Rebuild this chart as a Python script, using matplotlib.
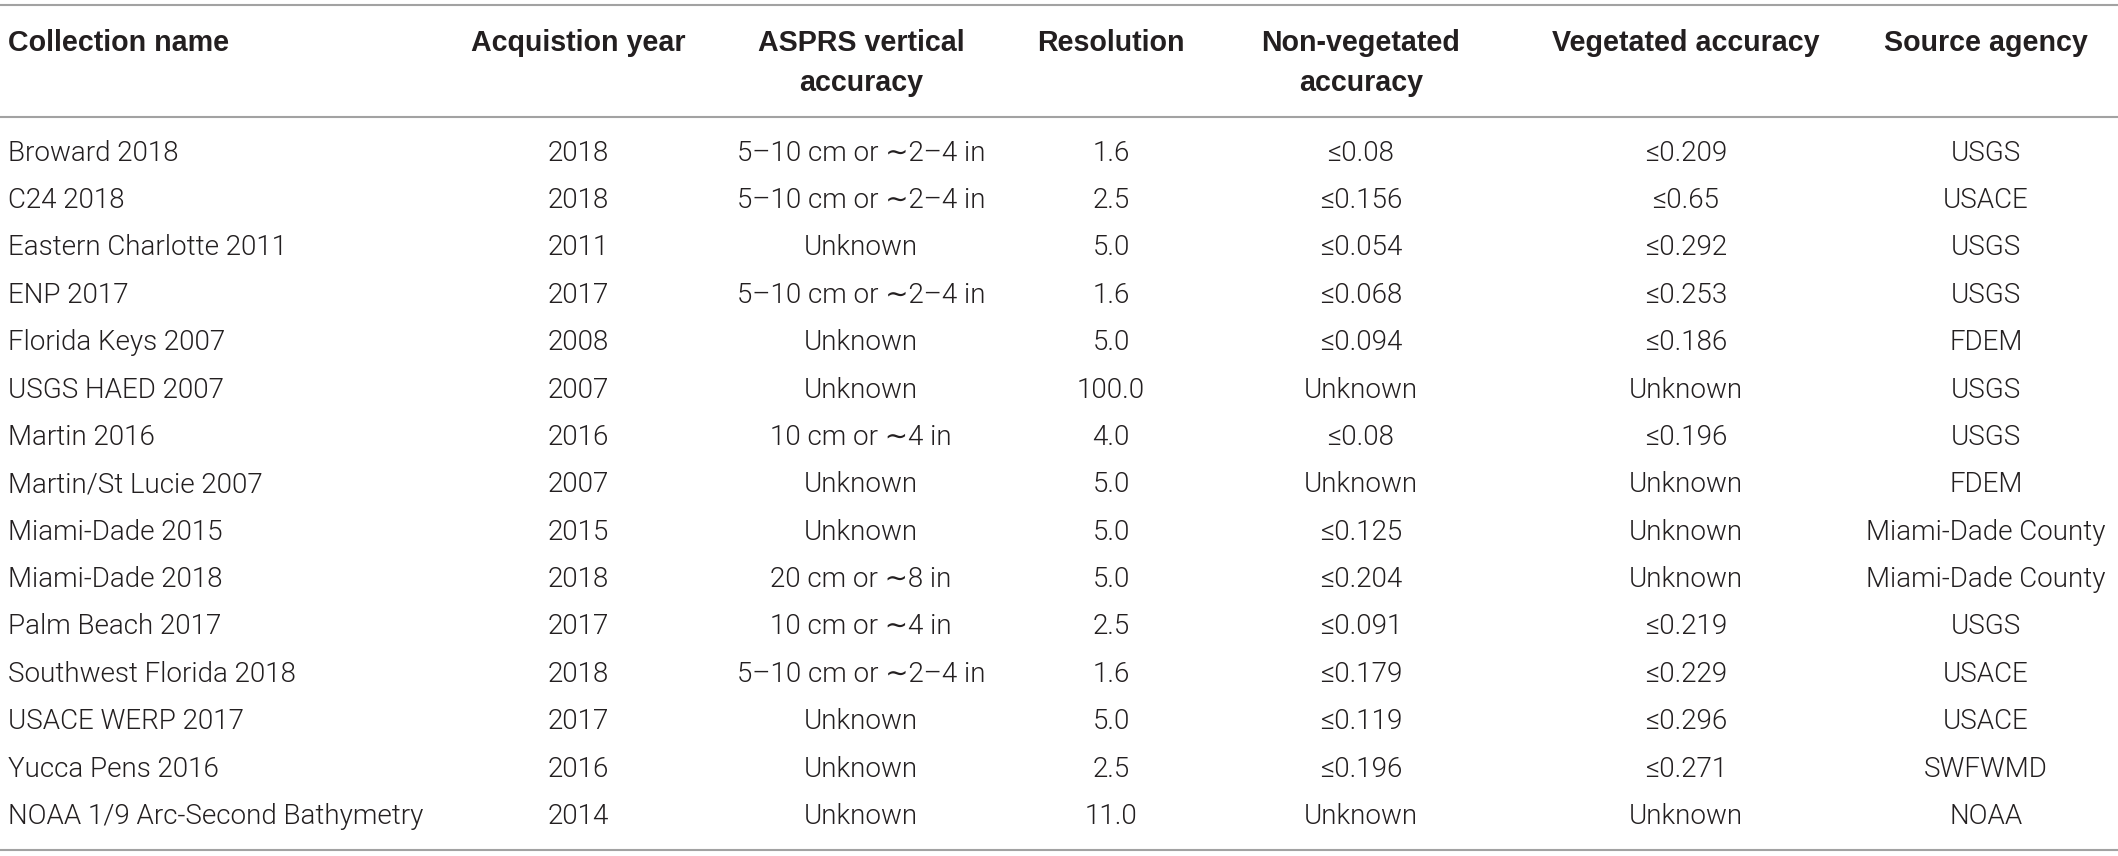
import matplotlib
matplotlib.use("Agg")
import matplotlib.pyplot as plt
from matplotlib import font_manager

names = ["Broward 2018", "C24 2018", "Eastern Charlotte 2011", "ENP 2017", "Florida Keys 2007",
         "USGS HAED 2007", "Martin 2016", "Martin/St Lucie 2007", "Miami-Dade 2015",
         "Miami-Dade 2018", "Palm Beach 2017", "Southwest Florida 2018", "USACE WERP 2017",
         "Yucca Pens 2016", "NOAA 1/9 Arc-Second Bathymetry"]
years = ["2018", "2018", "2011", "2017", "2008", "2007", "2016", "2007", "2015", "2018",
         "2017", "2018", "2017", "2016", "2014"]
asprs = ["5\u201310 cm or \u223c2\u20134 in", "5\u201310 cm or \u223c2\u20134 in", "Unknown",
         "5\u201310 cm or \u223c2\u20134 in", "Unknown", "Unknown", "10 cm or \u223c4 in", "Unknown",
         "Unknown", "20 cm or \u223c8 in", "10 cm or \u223c4 in", "5\u201310 cm or \u223c2\u20134 in",
         "Unknown", "Unknown", "Unknown"]
resolution = ["1.6", "2.5", "5.0", "1.6", "5.0", "100.0", "4.0", "5.0", "5.0", "5.0",
              "2.5", "1.6", "5.0", "2.5", "11.0"]
nonveg = ["\u22640.08", "\u22640.156", "\u22640.054", "\u22640.068", "\u22640.094", "Unknown",
          "\u22640.08", "Unknown", "\u22640.125", "\u22640.204", "\u22640.091", "\u22640.179",
          "\u22640.119", "\u22640.196", "Unknown"]
veg = ["\u22640.209", "\u22640.65", "\u22640.292", "\u22640.253", "\u22640.186", "Unknown",
       "\u22640.196", "Unknown", "Unknown", "Unknown", "\u22640.219", "\u22640.229",
       "\u22640.296", "\u22640.271", "Unknown"]
agency = ["USGS", "USACE", "USGS", "USGS", "FDEM", "USGS", "USGS", "FDEM", "Miami-Dade County",
          "Miami-Dade County", "USGS", "USACE", "USACE", "SWFWMD", "NOAA"]
headers = ["Collection name", "Acquistion year", "ASPRS vertical\naccuracy", "Resolution",
           "Non-vegetated\naccuracy", "Vegetated accuracy", "Source agency"]

available = {f.name for f in font_manager.fontManager.ttflist}
body_font = "Roboto" if "Roboto" in available else "Liberation Sans"
plt.rcParams["font.family"] = [body_font, "DejaVu Sans"]
head_family = ["Liberation Sans", "DejaVu Sans"]

columns = [names, years, asprs, resolution, nonveg, veg, agency]
col_x = [8, 578, 861, 1111, 1361, 1686, 1986]
col_ha = ["left"] + ["center"] * 6
ink = "#231f20"

fig = plt.figure(figsize=(21.18, 8.56), dpi=100)
ax = fig.add_axes([0, 0, 1, 1])
ax.set_xlim(0, 2118)
ax.set_ylim(856, 0)
ax.axis("off")

# rules: top, below header, bottom
for y in (5, 117, 850):
    ax.plot([0, 2118], [y, y], color="#a2a2a2", lw=1.5, solid_capstyle="butt")

# header, one text per line so the baselines can be set
for x, ha, h in zip(col_x, col_ha, headers):
    for k, part in enumerate(h.split("\n")):
        ax.text(x, 51 + k * 40, part, ha=ha, va="baseline", fontsize=20.6,
                fontweight="bold", family=head_family, color=ink)

row0, dy = 160.5, 47.4
for x, ha, col in zip(col_x, col_ha, columns):
    for i, val in enumerate(col):
        ax.text(x, row0 + i * dy, val, ha=ha, va="baseline", fontsize=20,
                fontweight=300, color=ink)

fig.savefig("out.png", dpi=100)
